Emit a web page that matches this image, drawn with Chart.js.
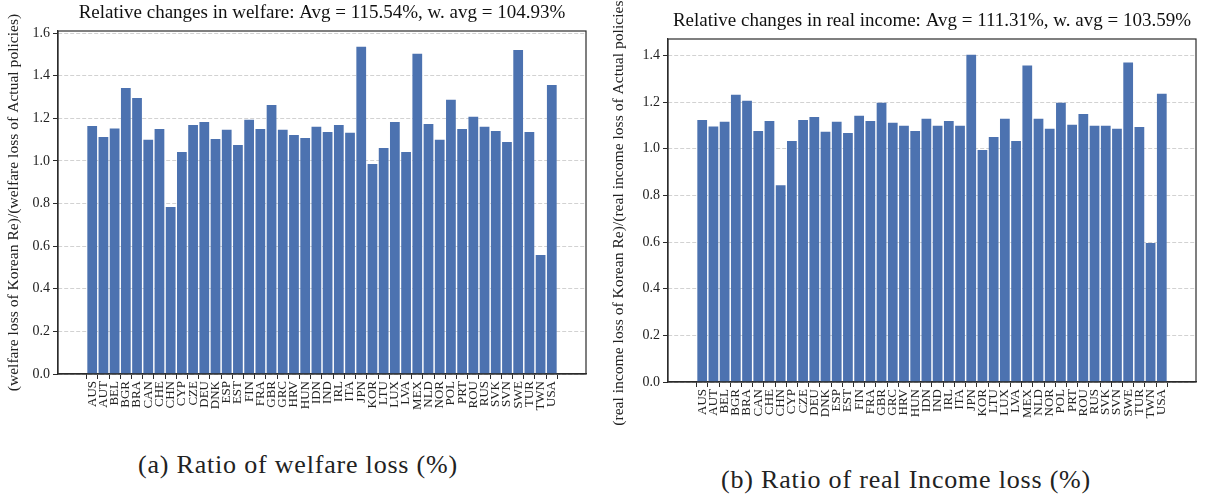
<!DOCTYPE html>
<html>
<head>
<meta charset="utf-8">
<script src="https://cdn.jsdelivr.net/npm/chart.js@4/dist/chart.umd.min.js"></script>
<style>
  html, body { margin: 0; padding: 0; background: #fff; }
  body { width: 1206px; height: 498px; position: relative; overflow: hidden; font-family: "Liberation Serif", serif; }
  .box { position: absolute; }
  .cap { position: absolute; font-family: "Liberation Serif", serif; font-size: 26px; letter-spacing: 0.8px; color: #222; white-space: nowrap; transform: translate(-50%, -50%); }
</style>
</head>
<body>
<div class="box" style="left:0;top:0;width:600px;height:440px;"><canvas id="ca"></canvas></div>
<div class="box" style="left:600px;top:0;width:606px;height:450px;"><canvas id="cb"></canvas></div>
<div class="cap" style="left:298px;top:465px;">(a) Ratio of welfare loss (%)</div>
<div class="cap" style="left:906px;top:480px;">(b) Ratio of real Income loss (%)</div>
<script>
const categories = ["AUS","AUT","BEL","BGR","BRA","CAN","CHE","CHN","CYP","CZE","DEU","DNK","ESP","EST","FIN","FRA","GBR","GRC","HRV","HUN","IDN","IND","IRL","ITA","JPN","KOR","LTU","LUX","LVA","MEX","NLD","NOR","POL","PRT","ROU","RUS","SVK","SVN","SWE","TUR","TWN","USA"];

const welfareRatio = [1.164,1.113,1.152,1.343,1.296,1.099,1.150,0.784,1.042,1.169,1.183,1.103,1.146,1.075,1.193,1.150,1.263,1.146,1.122,1.108,1.160,1.136,1.169,1.132,1.536,0.986,1.061,1.183,1.042,1.503,1.174,1.099,1.287,1.150,1.207,1.160,1.141,1.089,1.521,1.136,0.559,1.357];

const incomeRatio = [1.123,1.095,1.115,1.231,1.205,1.076,1.119,0.843,1.033,1.123,1.136,1.072,1.115,1.067,1.141,1.119,1.197,1.111,1.098,1.076,1.128,1.098,1.119,1.098,1.403,0.994,1.050,1.128,1.033,1.356,1.128,1.085,1.197,1.102,1.149,1.098,1.098,1.085,1.369,1.093,0.596,1.235];

const yTicksA = [0.0,0.2,0.4,0.6,0.8,1.0,1.2,1.4,1.6];
const yTicksB = [0.0,0.2,0.4,0.6,0.8,1.0,1.2,1.4];

const titleA = "Relative changes in welfare: Avg = 115.54%, w. avg = 104.93%";
const titleB = "Relative changes in real income: Avg = 111.31%, w. avg = 103.59%";
const yLabelA = "(welfare loss of Korean Re)/(welfare loss of Actual policies)";
const yLabelB = "(real income loss of Korean Re)/(real income loss of Actual policies)";

const BAR = "#4C72B0";
const DARK = "#2b2b2b";
const FONT = "'Liberation Serif', serif";

const framePlugin = {
  id: 'frame',
  afterDraw(chart) {
    const a = chart.chartArea, ctx = chart.ctx;
    ctx.save();
    ctx.strokeStyle = DARK;
    ctx.lineWidth = 1.2;
    ctx.strokeRect(a.left, a.top, a.right - a.left, a.bottom - a.top);
    ctx.restore();
  }
};

function makeChart(id, values, yTicks, yMax, title, yLabel, geom) {
  const data = values.map((v, i) => ({x: i, y: v}));
  return new Chart(document.getElementById(id), {
    type: 'bar',
    data: { datasets: [{ data, backgroundColor: BAR, borderWidth: 0, barPercentage: 0.87, categoryPercentage: 1.0 }] },
    options: {
      responsive: true,
      maintainAspectRatio: false,
      animation: false,
      layout: { padding: { left: 0, right: geom.right, top: 0, bottom: 0 } },
      plugins: {
        legend: { display: false },
        tooltip: { enabled: false },
        title: {
          display: true, text: title, color: '#111', fullSize: false,
          font: { family: FONT, size: geom.titleSize, weight: 'normal' },
          padding: { top: geom.titleTop, bottom: geom.titleBottom }
        }
      },
      scales: {
        x: {
          type: 'linear',
          min: -2.49, max: categories.length - 1 + 2.49,
          afterBuildTicks: (s) => { s.ticks = categories.map((c, i) => ({ value: i })); },
          afterFit: (s) => { s.height = geom.xh; },
          ticks: {
            autoSkip: false, maxRotation: 90, minRotation: 90,
            color: '#222', padding: 2,
            font: { family: FONT, size: 13 },
            callback: (v) => categories[v] !== undefined ? categories[v] : ''
          },
          grid: { display: true, drawOnChartArea: false, drawTicks: true, tickLength: 5, tickColor: DARK, tickWidth: 1 },
          border: { display: true, color: DARK, width: 1.2 }
        },
        y: {
          min: 0, max: yMax,
          afterBuildTicks: (s) => { s.ticks = yTicks.map(v => ({ value: v })); },
          afterFit: (s) => { s.width = geom.yw; },
          ticks: {
            color: '#222', padding: 3,
            font: { family: FONT, size: 14 },
            callback: (v) => Number(v).toFixed(1)
          },
          grid: { color: '#d2d2d2', lineWidth: 1, drawTicks: true, tickLength: 5, tickColor: DARK, tickWidth: 1 },
          border: { display: true, color: DARK, width: 1.2, dash: [4, 2] },
          title: {
            display: true, text: yLabel, color: '#222',
            font: { family: FONT, size: 15.6 },
            padding: { top: geom.ytPad, bottom: 0 }
          }
        }
      }
    },
    plugins: [framePlugin]
  });
}

makeChart('ca', welfareRatio, yTicksA, 1.61, titleA, yLabelA,
  { right: 14, titleSize: 19, titleTop: 2, titleBottom: 6.2, xh: 66, yw: 58, ytPad: 5 });
makeChart('cb', incomeRatio, yTicksB, 1.47, titleB, yLabelB,
  { right: 10, titleSize: 19, titleTop: 10, titleBottom: 6.2, xh: 68, yw: 68, ytPad: 10 });
</script>
</body>
</html>
